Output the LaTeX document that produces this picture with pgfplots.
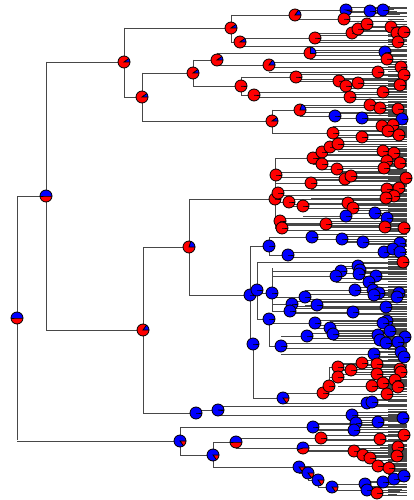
\documentclass[border=0pt]{standalone}
\usepackage{pgfplots}
\pgfplotsset{compat=1.18}
\usepackage{pgfplotstable}

\def\pieang{0}
\pgfdeclareplotmark{pie}{%
  \pgfpathcircle{\pgfpointorigin}{\pgfplotmarksize}%
  \pgfsetfillcolor{red}\pgfusepath{fill}%
  \pgfpathmoveto{\pgfpointorigin}%
  \pgfpathlineto{\pgfpoint{\pgfplotmarksize}{0pt}}%
  \pgfpatharc{0}{\pieang}{\pgfplotmarksize}%
  \pgfpathclose
  \pgfsetfillcolor{blue}\pgfusepath{fill}%
  \pgfsetstrokecolor{black}\pgfsetlinewidth{0.8pt}%
  \pgfpathcircle{\pgfpointorigin}{\pgfplotmarksize}\pgfusepath{stroke}%
  \pgfpathmoveto{\pgfpoint{\pgfplotmarksize}{0pt}}%
  \pgfpathlineto{\pgfpointorigin}%
  \pgfpathlineto{\pgfpointpolar{\pieang}{\pgfplotmarksize}}%
  \pgfusepath{stroke}%
}

% internal (skeleton) nodes: x, y, angle of blue share, parent x, vertical span
\pgfplotstableread{
x y a px y1 y2
17 318 180 17 196 440
46 196 180 17 62 330
124 62 36 46 28 97
231 28 36 124 15 42
295 15 54 231 10 19
240 42 36 231 38 46
142 97 36 124 73 121
193 73 36 142 60 87
217 60 36 193 53 65
241 86 0 193 77 95
272 121 36 142 110 133
143 330 54 46 247 413
189 247 72 143 199 295
275 199 0 189 159 228
250 295 360 189 246 344
269 246 360 250 237 255
257 290 360 250 262 319
272 293 360 257 268 311
269 319 360 257 323 346
253 344 360 250 344 398
283 398 306 253 393 403
323 393 0 283 386 398
329 386 0 323 367 386
196 413 360 143 410 417
218 410 353 196 406 415
180 441 306 17 427 455
213 455 306 180 442 467
236 442 180 213 438 448
299 467 306 213 462 473
308 473 306 299 473 480
318 480 306 308 480 487
332 487 306 318 484 490
}\inner

% nodes near the tips: x, y, angle of blue share, parent x
\pgfplotstableread{
x y a px
346 10 342 295
370 11 360 346
383 10 360 370
344 19 0 295
315 38 0 240
352 33 0 315
358 29 0 352
367 24 0 358
391 27 0 367
397 33 0 391
404 32 0 397
398 42 0 315
310 53 90 217
385 52 360 310
387 59 0 310
269 65 54 217
378 72 0 269
401 67 0 378
404 75 0 378
296 77 0 241
339 81 0 296
346 86 0 339
358 83 0 339
400 85 0 358
254 95 0 241
350 97 0 254
383 92 0 350
300 110 72 272
370 105 0 300
380 108 0 370
398 109 0 380
335 116 360 300
362 118 360 335
402 119 360 362
333 133 0 272
382 126 0 333
393 125 0 382
362 137 0 333
388 131 0 362
399 135 0 388
313 158 0 275
322 152 0 313
330 147 0 322
338 144 0 330
383 151 0 338
394 153 0 383
322 164 0 313
387 161 0 322
400 163 0 387
337 169 0 322
384 168 0 337
276 175 0 275
311 183 0 276
345 179 0 311
351 176 0 345
406 178 0 351
387 189 0 311
399 188 0 387
394 196 0 387
386 198 0 311
278 193 0 275
289 202 0 278
303 206 0 289
348 203 0 303
353 208 0 348
346 216 360 303
375 213 360 346
387 218 360 375
280 221 0 275
282 228 0 275
326 224 0 282
385 227 0 326
404 228 0 385
312 237 360 269
342 239 360 312
363 242 360 342
400 243 360 363
288 255 360 269
384 252 360 288
393 249 360 384
400 252 360 393
403 262 0 257
341 271 360 272
358 266 360 341
360 270 360 358
359 274 360 358
376 276 360 360
336 276 360 272
369 282 360 336
305 297 360 272
355 290 360 305
373 290 360 355
379 293 360 373
374 295 360 373
399 293 360 379
397 297 360 379
317 305 360 305
386 307 360 317
292 304 360 272
290 311 360 272
353 312 360 290
315 323 360 269
330 328 360 315
387 321 360 330
383 323 360 330
333 334 360 330
390 331 360 333
405 337 360 390
378 335 360 333
380 340 360 333
386 343 360 333
398 342 360 386
281 346 360 269
307 336 360 281
374 354 360 281
401 352 360 374
404 357 360 374
338 367 0 329
362 363 0 338
377 364 0 362
400 369 0 377
351 370 0 338
377 374 0 351
401 372 0 377
338 377 0 329
372 386 0 338
383 383 0 372
395 380 0 383
398 387 0 383
387 394 0 323
367 403 360 283
372 402 360 367
352 415 360 218
313 427 360 180
356 423 360 313
354 430 360 313
378 422 360 356
403 418 360 378
321 438 0 236
303 448 198 236
354 451 0 303
363 455 0 354
370 458 0 363
380 439 0 321
404 435 0 380
398 447 0 380
397 456 0 370
378 466 0 299
389 468 0 378
365 484 360 332
383 482 360 365
394 479 360 383
404 476 360 394
367 490 360 332
377 493 0 367
}\dense

% extra tip branches: start x, end x, y
\pgfplotstableread{
x0 x1 y
240 407 46
218 407 406
218 407 415
380 384 4
382 390 6.5
384 394 9
386 397 11.5
388 400 14
388 402 16.5
388 404 19
388 405 21.5
388 406 24
388 406 481.5
388 405 484
388 404 486.5
388 402 489
388 400 491.5
388 397 494
}\tipl

% short tip stubs along the right edge (y only)
\pgfplotstableread[row sep=\\]{
y\\
26.5\\29\\31.5\\34\\36.5\\39\\41.5\\44\\46.5\\49\\
51.5\\54\\56.5\\59\\61.5\\64\\66.5\\69\\71.5\\74\\
76.5\\79\\81.5\\84\\86.5\\89\\91.5\\94\\96.5\\99\\
101.5\\104\\106.5\\109\\111.5\\114\\116.5\\119\\121.5\\124\\
126.5\\129\\131.5\\134\\136.5\\139\\141.5\\144\\146.5\\149\\
151.5\\154\\156.5\\159\\161.5\\164\\166.5\\169\\171.5\\174\\
176.5\\179\\181.5\\184\\186.5\\189\\191.5\\194\\196.5\\199\\
201.5\\204\\206.5\\209\\211.5\\214\\216.5\\219\\221.5\\224\\
226.5\\229\\231.5\\234\\236.5\\239\\241.5\\244\\246.5\\249\\
251.5\\254\\256.5\\259\\261.5\\264\\266.5\\269\\271.5\\274\\
276.5\\279\\281.5\\284\\286.5\\289\\291.5\\294\\296.5\\299\\
301.5\\304\\306.5\\309\\311.5\\314\\316.5\\319\\321.5\\324\\
326.5\\329\\331.5\\334\\336.5\\339\\341.5\\344\\346.5\\349\\
351.5\\354\\356.5\\359\\361.5\\364\\366.5\\369\\371.5\\374\\
376.5\\379\\381.5\\384\\386.5\\389\\391.5\\394\\396.5\\399\\
401.5\\404\\406.5\\409\\411.5\\414\\416.5\\419\\421.5\\424\\
426.5\\429\\431.5\\434\\436.5\\439\\441.5\\444\\446.5\\449\\
451.5\\454\\456.5\\459\\461.5\\464\\466.5\\469\\471.5\\474\\
476.5\\479\\
}\stubs

\begin{document}
\begin{tikzpicture}
\begin{axis}[name=ax, width=413pt, height=500pt, scale only axis,
  xmin=0, xmax=413, ymin=0, ymax=500, y dir=reverse, hide axis, clip=true]
\pgfplotsset{
  hb/.style={only marks, mark=*, mark size=0pt, mark options={draw=none, fill=none}, forget plot,
    error bars/.cd, x dir=#1, x explicit, error mark=none,
    error bar style={draw=black!72, line width=0.75pt}},
  vb/.style={only marks, mark=*, mark size=0pt, mark options={draw=none, fill=none}, forget plot,
    error bars/.cd, y dir=plus, y explicit, error mark=none,
    error bar style={draw=black!72, line width=0.75pt}},
}
% parent branches
\addplot[hb=minus] table[x=x, y=y, x error minus expr=\thisrow{x}-\thisrow{px}] {\inner};
\addplot[hb=minus] table[x=x, y=y, x error minus expr=\thisrow{x}-\thisrow{px}] {\dense};
% vertical connectors
\addplot[vb] table[x=x, y=y1, y error plus expr=\thisrow{y2}-\thisrow{y1}] {\inner};
\addplot[vb] table[x=x, y expr=\thisrow{y}-2.5, y error plus expr=5] {\dense};
% child branches to the tips
\addplot[hb=plus] table[x=x, y expr=\thisrow{y}-2.5, x error plus expr=407-\thisrow{x}] {\dense};
\addplot[hb=plus] table[x=x, y expr=\thisrow{y}+2.5, x error plus expr=407-\thisrow{x}] {\dense};
\addplot[hb=plus] table[x=x0, y=y, x error plus expr=\thisrow{x1}-\thisrow{x0}] {\tipl};
\addplot[hb=plus] table[x expr=388, y=y, x error plus expr=19] {\stubs};
% pies
\addplot[only marks, mark=pie, mark size=6pt, forget plot,
  visualization depends on={\thisrow{a} \as \pieang}] table[x=x, y=y] {\inner};
\addplot[only marks, mark=pie, mark size=6pt, forget plot,
  visualization depends on={\thisrow{a} \as \pieang}] table[x=x, y=y] {\dense};
\end{axis}
\pgfresetboundingbox
\path (ax.south west) rectangle (ax.north east);
\end{tikzpicture}
\end{document}
